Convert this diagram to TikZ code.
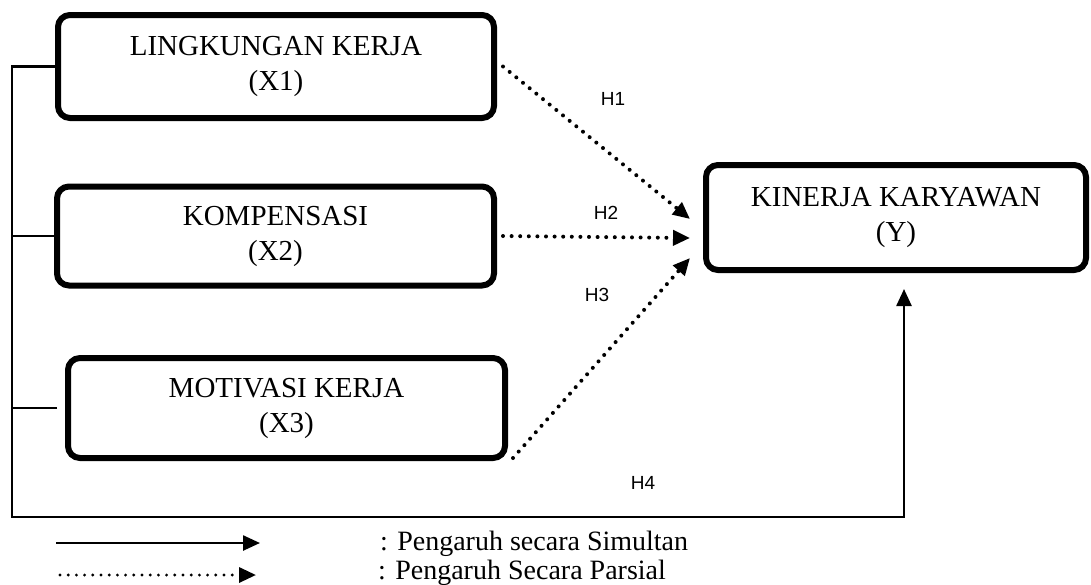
\documentclass[tikz,border=0pt]{standalone}
\usepackage{fontspec}
\setmainfont{Liberation Serif}
\newfontfamily\hypfont{Liberation Sans}
\usepackage{tikz}
\usetikzlibrary{arrows.meta}
\usetikzlibrary{calc}

\tikzset{
	varbox/.style={draw, line width=6pt, rounded corners=12pt, align=center,
		font=\fontsize{29}{35}\selectfont, inner sep=0pt},
	simline/.style={line width=2.5pt},
	parline/.style={line width=4pt, line cap=round, dash pattern=on 0pt off 8.6pt},
	tip/.style={-{Triangle[length=17pt, width=15pt]}},
	hyplabel/.style={font=\hypfont\fontsize{19}{21}\selectfont, inner sep=0pt},
	legtext/.style={font=\fontsize{28}{30}\selectfont, inner sep=0pt, anchor=base west}
}

\begin{document}
\begin{tikzpicture}[x=1pt, y=-1pt]
			\useasboundingbox (0,0) rectangle (1091,584);

			% variables
			\node[varbox, minimum width=436pt, minimum height=103pt] (lingkungan) at (276,66.5) {LINGKUNGAN KERJA\\(X1)};
			\node[varbox, minimum width=437pt, minimum height=99pt] (kompensasi) at (275.5,236) {KOMPENSASI\\(X2)};
			\node[varbox, minimum width=437pt, minimum height=100pt] (motivasi) at (286.5,408) {MOTIVASI KERJA\\(X3)};
			\node[varbox, minimum width=380pt, minimum height=105pt] (kinerja) at (896,217.5) {KINERJA KARYAWAN\\(Y)};

			% simultaneous path
			\coordinate (rail) at (12,0);
			\coordinate (railbottom) at (12,517);
			\draw[simline, tip, shorten >=16pt] (lingkungan.west) -- (lingkungan.west -| rail) -- (railbottom) -| ([xshift=8pt]kinerja.south);
			\draw[simline] (kompensasi.west) -- (kompensasi.west -| rail);
			\draw[simline] ([xshift=-8pt]motivasi.west) -- (motivasi.west -| rail);

			% partial paths
			\coordinate (h1end) at ($(kinerja.west)+(-13,1.5)$);
			\coordinate (h2end) at ($(kinerja.west)+(-13,20.5)$);
			\coordinate (h3end) at ($(kinerja.west)+(-13,40.5)$);
			\draw[parline, tip] ([xshift=6pt]lingkungan.east) -- (h1end);
			\draw[parline, tip] ([xshift=6pt]kompensasi.east) -- (h2end);
			\draw[parline, tip] ($(motivasi.south east)+(5,-3)$) -- (h3end);

			\node[hyplabel] (h1) at (613,99) {H1};
			\node[hyplabel] (h2) at (606,213) {H2};
			\node[hyplabel] (h3) at (597,295) {H3};
			\node[hyplabel] (h4) at (643,483) {H4};

			% legend
			\node[legtext] (legsim) at (380,550) {: Pengaruh secara Simultan};
			\node[legtext] (legpar) at (378,579) {: Pengaruh Secara Parsial};
			\coordinate (simstart) at (56,543);
			\coordinate (simend) at (260,543);
			\coordinate (parstart) at (60,575);
			\coordinate (parend) at (256,575);
			\draw[simline, tip] (simstart) -- (simend);
			\draw[line width=3.2pt, line cap=round, dash pattern=on 0pt off 8.2pt, tip] (parstart) -- (parend);
		\end{tikzpicture}
\end{document}
